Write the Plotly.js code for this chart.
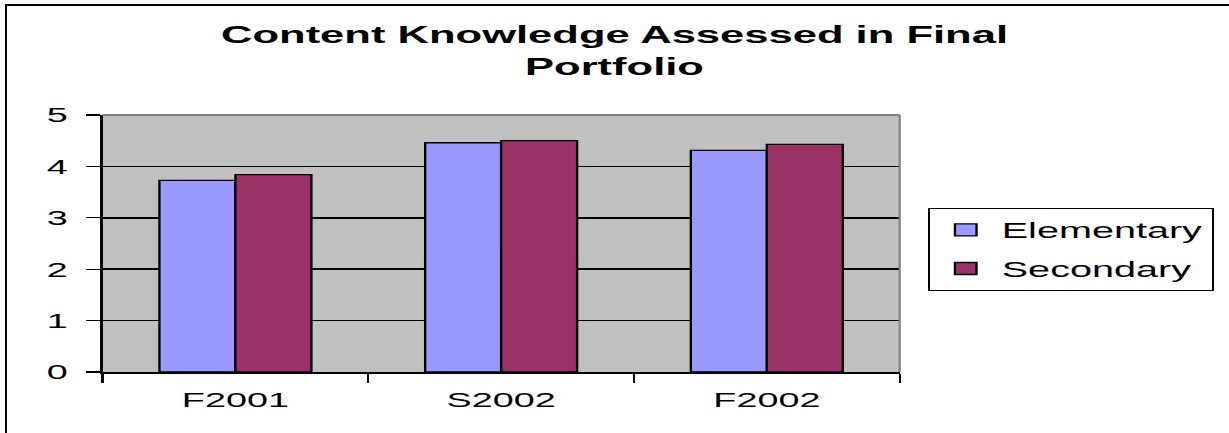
<!DOCTYPE html>
<html>
<head>
<meta charset="utf-8">
<script src="https://cdn.plot.ly/plotly-3.0.1.min.js"></script>
<style>
html,body{margin:0;padding:0;background:#fff;overflow:hidden;width:1229px;height:433px;}
#wrap{position:absolute;left:0;top:0;width:683px;height:433px;transform:scaleX(1.7994);transform-origin:0 0;}
#frame{position:absolute;left:5px;top:4px;width:1400px;height:600px;border-left:2px solid #000;border-top:2px solid #000;pointer-events:none;}
</style>
</head>
<body>
<div id="wrap"><div id="chart" style="width:683px;height:433px;"></div></div>
<div id="frame"></div>
<script>
const categories = ["F2001", "S2002", "F2002"];
const elementary = [3.73, 4.46, 4.31];
const secondary = [3.84, 4.50, 4.43];
const seriesNames = ["Elementary", "Secondary"];
const yTicks = [0, 1, 2, 3, 4, 5];

const font = "Liberation Sans, Arial, sans-serif";

const traces = [
  {type: "bar", name: seriesNames[0], x: categories, y: elementary, legendgroup: "a",
   marker: {color: "#9999FF", line: {color: "#000", width: 1.3}}},
  {type: "bar", name: seriesNames[1], x: categories, y: secondary, legendgroup: "b",
   marker: {color: "#993366", line: {color: "#000", width: 1.3}}}
];

const layout = {
  width: 683, height: 433,
  margin: {l: 57, r: 183, t: 115, b: 61, pad: 0, autoexpand: false},
  paper_bgcolor: "rgba(0,0,0,0)",
  plot_bgcolor: "#C0C0C0",
  font: {family: font, color: "#000", size: 20},
  title: {text: "<b>Content Knowledge Assessed in Final<br>Portfolio</b>",
          font: {family: font, size: 24.2, color: "#000"},
          x: 0.5, xanchor: "center", xref: "container", y: 0.9, yanchor: "top", yref: "container"},
  barmode: "group", bargap: 0.428, bargroupgap: 0,
  showlegend: true,
  legend: {x: 1.035, xanchor: "left", y: 0.6386, yanchor: "top",
           bgcolor: "#fff", bordercolor: "#000", borderwidth: 1.2,
           font: {family: font, size: 22, color: "#000"},
           tracegroupgap: 7, traceorder: "grouped"},
  xaxis: {type: "category", tickson: "boundaries", ticks: "outside", ticklen: 9, tickwidth: 1.2,
          tickcolor: "#000", showline: true, linecolor: "#000", linewidth: 2,
          showgrid: false, ticklabelstandoff: 8,
          tickfont: {family: font, size: 21, color: "#000"}, fixedrange: true},
  yaxis: {range: [0, 5], tickvals: yTicks, ticks: "outside", ticklen: 8, tickwidth: 1.2,
          tickcolor: "#000", showline: true, linecolor: "#000", linewidth: 1.2,
          showgrid: true, gridcolor: "#000", gridwidth: 1.6, zeroline: false,
          ticklabelstandoff: 6, tickfont: {family: font, size: 21, color: "#000"}, fixedrange: true},
  shapes: [
    {type: "line", xref: "paper", yref: "paper", x0: 0, x1: 1, y0: 1, y1: 1, layer: "above",
     line: {color: "#808080", width: 2}},
    {type: "line", xref: "paper", yref: "paper", x0: 1, x1: 1, y0: 0, y1: 1, layer: "above",
     line: {color: "#808080", width: 1.2}}
  ]
};

Plotly.newPlot("chart", traces, layout, {staticPlot: true, displayModeBar: false, responsive: false});
</script>
</body>
</html>
